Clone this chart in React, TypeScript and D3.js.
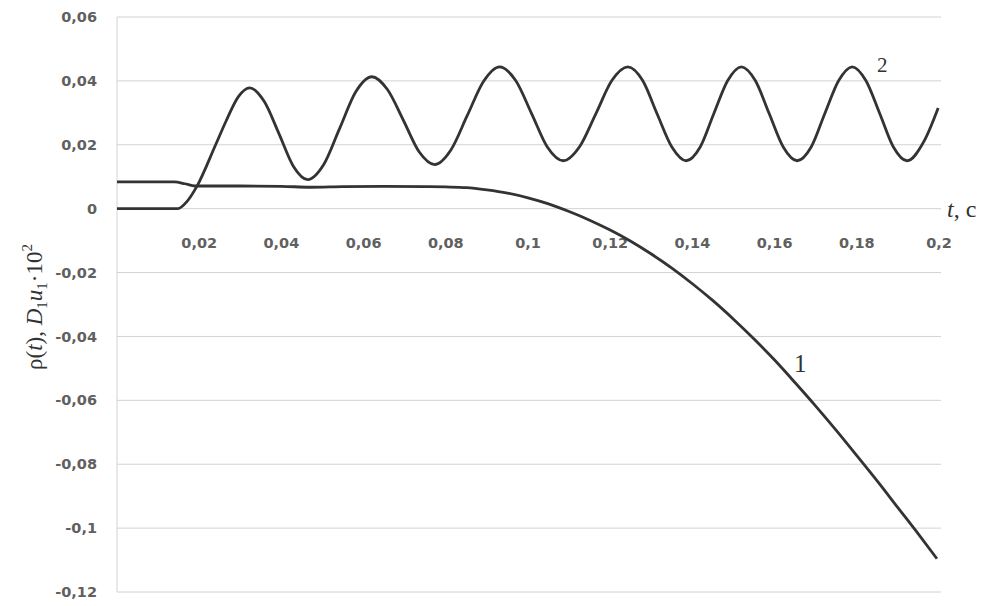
import React from "react";
import * as d3 from "d3";

// Time samples (s) and values for curve 1 (slowly drifting, then falling)
const t1: number[] = [0, 0.008, 0.014, 0.0165, 0.019, 0.03, 0.04, 0.047, 0.055, 0.065, 0.075, 0.08, 0.085, 0.09, 0.095, 0.1, 0.105, 0.11, 0.115, 0.12, 0.125, 0.13, 0.135, 0.14, 0.145, 0.15, 0.155, 0.16, 0.165, 0.17, 0.175, 0.18, 0.185, 0.19, 0.195, 0.1995];
const v1: number[] = [0.0084, 0.0084, 0.0084, 0.0078, 0.0071, 0.0071, 0.007, 0.0067, 0.0069, 0.007, 0.0069, 0.0068, 0.0066, 0.0059, 0.0049, 0.0034, 0.0015, -0.0009, -0.0036, -0.0067, -0.0102, -0.0142, -0.0186, -0.0235, -0.0288, -0.0346, -0.0408, -0.0474, -0.0545, -0.0618, -0.0694, -0.0773, -0.0853, -0.0936, -0.1019, -0.1096];

// Time samples (s) and values for curve 2 (oscillation after start-up)
const t2: number[] = [0, 0.008, 0.0148, 0.017, 0.0194, 0.024, 0.0266, 0.0295, 0.0323, 0.0358, 0.0394, 0.0429, 0.0464, 0.0503, 0.0542, 0.0581, 0.062, 0.0658, 0.0697, 0.0735, 0.0773, 0.0812, 0.0852, 0.0892, 0.0931, 0.097, 0.1009, 0.1047, 0.1086, 0.1125, 0.1165, 0.1204, 0.1243, 0.1279, 0.1314, 0.135, 0.1385, 0.1419, 0.1452, 0.1486, 0.1519, 0.1553, 0.1587, 0.1621, 0.1655, 0.1689, 0.1722, 0.1756, 0.1789, 0.1822, 0.1856, 0.1889, 0.1922, 0.1964, 0.1998];
const v2: number[] = [0, 0, 0, 0.0022, 0.0069, 0.02, 0.0276, 0.035, 0.0378, 0.0336, 0.0235, 0.0133, 0.0091, 0.0138, 0.0252, 0.0366, 0.0413, 0.0373, 0.0276, 0.0178, 0.0138, 0.0183, 0.0291, 0.0399, 0.0444, 0.0401, 0.0297, 0.0193, 0.015, 0.0193, 0.0297, 0.0401, 0.0444, 0.0401, 0.0297, 0.0193, 0.015, 0.0193, 0.0297, 0.0401, 0.0444, 0.0401, 0.0297, 0.0193, 0.015, 0.0193, 0.0297, 0.0401, 0.0444, 0.0401, 0.0297, 0.0193, 0.015, 0.0212, 0.0315];

const yTicks: number[] = [0.06, 0.04, 0.02, 0, -0.02, -0.04, -0.06, -0.08, -0.1, -0.12];
const yTickLabels: string[] = ["0,06", "0,04", "0,02", "0", "-0,02", "-0,04", "-0,06", "-0,08", "-0,1", "-0,12"];
const xTicks: number[] = [0.02, 0.04, 0.06, 0.08, 0.1, 0.12, 0.14, 0.16, 0.18, 0.2];
const xTickLabels: string[] = ["0,02", "0,04", "0,06", "0,08", "0,1", "0,12", "0,14", "0,16", "0,18", "0,2"];

const W = 987;
const H = 606;

export default function App() {
  const x = d3.scaleLinear().domain([0, 0.2]).range([117, 939]);
  const y = d3.scaleLinear().domain([-0.12, 0.06]).range([592, 17]);

  const line = d3
    .line<[number, number]>()
    .x((d) => x(d[0]))
    .y((d) => y(d[1]))
    .curve(d3.curveMonotoneX);

  const s1 = t1.map((t, i) => [t, v1[i]] as [number, number]);
  const s2 = t2.map((t, i) => [t, v2[i]] as [number, number]);

  const labelFont = "'DejaVu Sans', Verdana, sans-serif";
  const serif = "'Liberation Serif', 'Times New Roman', serif";

  return (
    <svg
      width={W}
      height={H}
      viewBox={`0 0 ${W} ${H}`}
      style={{ position: "absolute", left: 0, top: 0, background: "#fff" }}
    >
      {/* horizontal grid */}
      {yTicks.map((v) => (
        <line key={"g" + v} x1={x(0)} x2={x(0.2) + 2} y1={y(v)} y2={y(v)} stroke="#d2d2d2" strokeWidth={1} />
      ))}
      {/* vertical axis */}
      <line x1={x(0)} x2={x(0)} y1={y(0.06)} y2={y(-0.12)} stroke="#d2d2d2" strokeWidth={1} />

      {/* y tick labels */}
      {yTicks.map((v, i) => (
        <text
          key={"yl" + v}
          x={97}
          y={y(v)}
          dy="0.35em"
          textAnchor="end"
          fontFamily={labelFont}
          fontSize={14.5}
          fontWeight="bold"
          fill="#606060"
        >
          {yTickLabels[i]}
        </text>
      ))}

      {/* x tick labels */}
      {xTicks.map((v, i) => (
        <text
          key={"xl" + v}
          x={x(v)}
          y={243}
          dy="0.35em"
          textAnchor="middle"
          fontFamily={labelFont}
          fontSize={14.5}
          fontWeight="bold"
          fill="#606060"
        >
          {xTickLabels[i]}
        </text>
      ))}

      {/* curves */}
      <path d={line(s2) || ""} fill="none" stroke="#333" strokeWidth={2.8} strokeLinejoin="round" />
      <path d={line(s1) || ""} fill="none" stroke="#333" strokeWidth={2.8} strokeLinejoin="round" />

      {/* curve labels */}
      <text x={877} y={72} fontFamily={serif} fontSize={21} fill="#333">2</text>
      <text x={794} y={372} fontFamily={serif} fontSize={25} fill="#333">1</text>

      {/* x axis title */}
      <text x={947} y={217} fontFamily={serif} fontSize={24} fill="#333">
        <tspan fontStyle="italic">t</tspan>, c
      </text>

      {/* y axis title */}
      <text
        transform={`translate(42, 307) rotate(-90)`}
        textAnchor="middle"
        fontFamily={serif}
        fontSize={23}
        fill="#333"
      >
        ρ(<tspan fontStyle="italic">t</tspan>), <tspan fontStyle="italic">D</tspan>
        <tspan fontSize={15} dy={5}>1</tspan>
        <tspan fontStyle="italic" dy={-5}>u</tspan>
        <tspan fontSize={15} dy={5}>1</tspan>
        <tspan dy={-5}>·10</tspan>
        <tspan fontSize={15} dy={-10}>2</tspan>
      </text>
    </svg>
  );
}
